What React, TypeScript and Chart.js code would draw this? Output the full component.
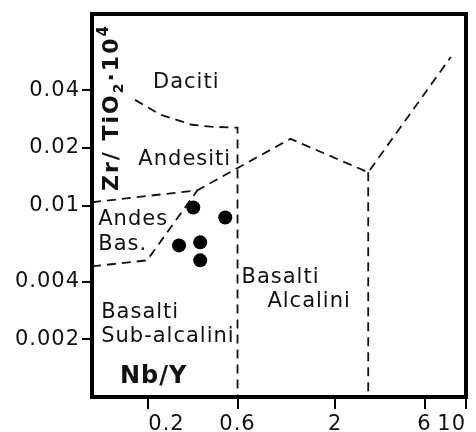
import React, { useEffect, useRef } from "react";
import { Chart, registerables } from "chart.js";
Chart.register(...registerables);

// Axis ticks
const xTicks = [0.2, 0.6, 2, 6, 10];
const yTicks = [0.002, 0.004, 0.01, 0.02, 0.04];

// Samples (Nb/Y, Zr/TiO2)
const sampleNbY = [0.348, 0.516, 0.292, 0.379, 0.379];
const sampleZrTi = [0.00977, 0.00866, 0.00619, 0.00642, 0.00517];

// Field boundaries
const daciteX = [0.17, 0.232, 0.342, 0.43, 0.6, 0.6];
const daciteY = [0.0356, 0.0298, 0.0264, 0.0258, 0.0255, 0.001];
const andesiteX = [0.1, 0.366, 1.15, 3, 8.3];
const andesiteY = [0.0104, 0.012, 0.0223, 0.0149, 0.0597];
const andBasX = [0.1, 0.197, 0.366];
const andBasY = [0.00481, 0.00517, 0.012];
const alkX = [3, 3];
const alkY = [0.0149, 0.001];

// Field names (anchored at left / baseline in data units)
const fieldNames = ["Daciti", "Andesiti", "Andes", "Bas.", "Basalti", "Alcalini", "Basalti", "Sub-alcalini"];
const fieldX = [0.212, 0.177, 0.108, 0.108, 0.63, 0.867, 0.112, 0.112];
const fieldY = [0.0412, 0.0162, 0.00787, 0.00583, 0.00393, 0.00294, 0.00258, 0.00193];

const INK = "#111111";
const FONT = "'DejaVu Sans', 'Liberation Sans', sans-serif";
const SPACING = "1px";

const zip = (xs: number[], ys: number[]) => xs.map((x, i) => ({ x, y: ys[i] }));

const lineDs = (xs: number[], ys: number[]) => ({
  data: zip(xs, ys),
  showLine: true,
  borderColor: INK,
  borderWidth: 1.8,
  borderDash: [9, 6],
  pointRadius: 0,
  fill: false,
  tension: 0,
});

const decorPlugin = {
  id: "decor",
  beforeDraw(chart: any) {
    const ctx = chart.ctx;
    ctx.save();
    ctx.fillStyle = "#ffffff";
    ctx.fillRect(0, 0, chart.width, chart.height);
    ctx.restore();
    (ctx as any).letterSpacing = SPACING;
  },
  afterDraw(chart: any) {
    const ctx = chart.ctx;
    const a = chart.chartArea;
    const xs = chart.scales.x;
    const ys = chart.scales.y;
    ctx.save();
    (ctx as any).letterSpacing = SPACING;
    ctx.fillStyle = INK;
    ctx.textAlign = "left";
    ctx.textBaseline = "alphabetic";
    ctx.font = `21px ${FONT}`;
    fieldNames.forEach((n, i) => {
      ctx.fillText(n, xs.getPixelForValue(fieldX[i]), ys.getPixelForValue(fieldY[i]));
    });

    // x-axis title inside plot
    ctx.font = `bold 24px ${FONT}`;
    ctx.fillText("Nb/Y", a.left + 28, a.bottom - 14);

    // y-axis title, rotated, inside plot
    ctx.save();
    ctx.translate(a.left + 26, a.top + 177);
    ctx.rotate(-Math.PI / 2);
    (ctx as any).letterSpacing = "2px";
    let cx = 0;
    const part = (t: string, size: number, dy: number, bold = true) => {
      ctx.font = `${bold ? "bold " : ""}${size}px ${FONT}`;
      ctx.fillText(t, cx, dy);
      cx += ctx.measureText(t).width;
    };
    part("Zr/ TiO", 22, 0);
    part("2", 14, 5);
    part("·10", 22, 0);
    part("4", 15, -10);
    ctx.restore();

    // frame
    ctx.strokeStyle = "#000";
    ctx.lineWidth = 4;
    ctx.strokeRect(a.left, a.top, a.right - a.left, a.bottom - a.top);
    ctx.restore();
  },
};

export default function App() {
  const ref = useRef<HTMLCanvasElement>(null);
  useEffect(() => {
    if (!ref.current) return;
    const chart = new Chart(ref.current, {
      type: "scatter",
      data: {
        datasets: [
          lineDs(daciteX, daciteY),
          lineDs(andesiteX, andesiteY),
          lineDs(andBasX, andBasY),
          lineDs(alkX, alkY),
          {
            data: zip(sampleNbY, sampleZrTi),
            pointRadius: 7,
            pointBackgroundColor: "#000",
            pointBorderColor: "#000",
            borderWidth: 0,
            showLine: false,
          } as any,
        ],
      },
      options: {
        responsive: false,
        animation: false,
        layout: { padding: { left: 0, right: 10, top: 14, bottom: 0 } },
        plugins: { legend: { display: false }, tooltip: { enabled: false } },
        scales: {
          x: {
            type: "logarithmic",
            min: 0.1,
            max: 10,
            afterBuildTicks: (s: any) => {
              s.ticks = xTicks.map((v) => ({ value: v }));
            },
            afterFit: (s: any) => {
              s.height = 35;
              s.paddingLeft = 0;
              s.paddingRight = 0;
            },
            ticks: {
              autoSkip: false,
              maxRotation: 0,
              padding: 3,
              align: "inner",
              color: INK,
              font: { family: FONT, size: 21 },
              callback: (v: any) => String(v),
            },
            grid: { drawOnChartArea: false, tickLength: 12, color: "#000", lineWidth: 2 },
            border: { display: false },
          },
          y: {
            type: "logarithmic",
            min: 0.001,
            max: 0.1,
            afterBuildTicks: (s: any) => {
              s.ticks = yTicks.map((v) => ({ value: v }));
            },
            afterFit: (s: any) => {
              s.width = 92;
              s.paddingTop = 0;
              s.paddingBottom = 0;
            },
            ticks: {
              autoSkip: false,
              padding: 2,
              color: INK,
              font: { family: FONT, size: 21 },
              callback: (v: any) => String(v),
            },
            grid: { drawOnChartArea: false, tickLength: 10, color: "#000", lineWidth: 2 },
            border: { display: false },
          },
        },
      },
      plugins: [decorPlugin],
    });
    return () => chart.destroy();
  }, []);
  return (
    <div style={{ position: "fixed", left: 0, top: 0, width: 476, height: 432 }}>
      <canvas ref={ref} width={476} height={432} style={{ display: "block" }} />
    </div>
  );
}
